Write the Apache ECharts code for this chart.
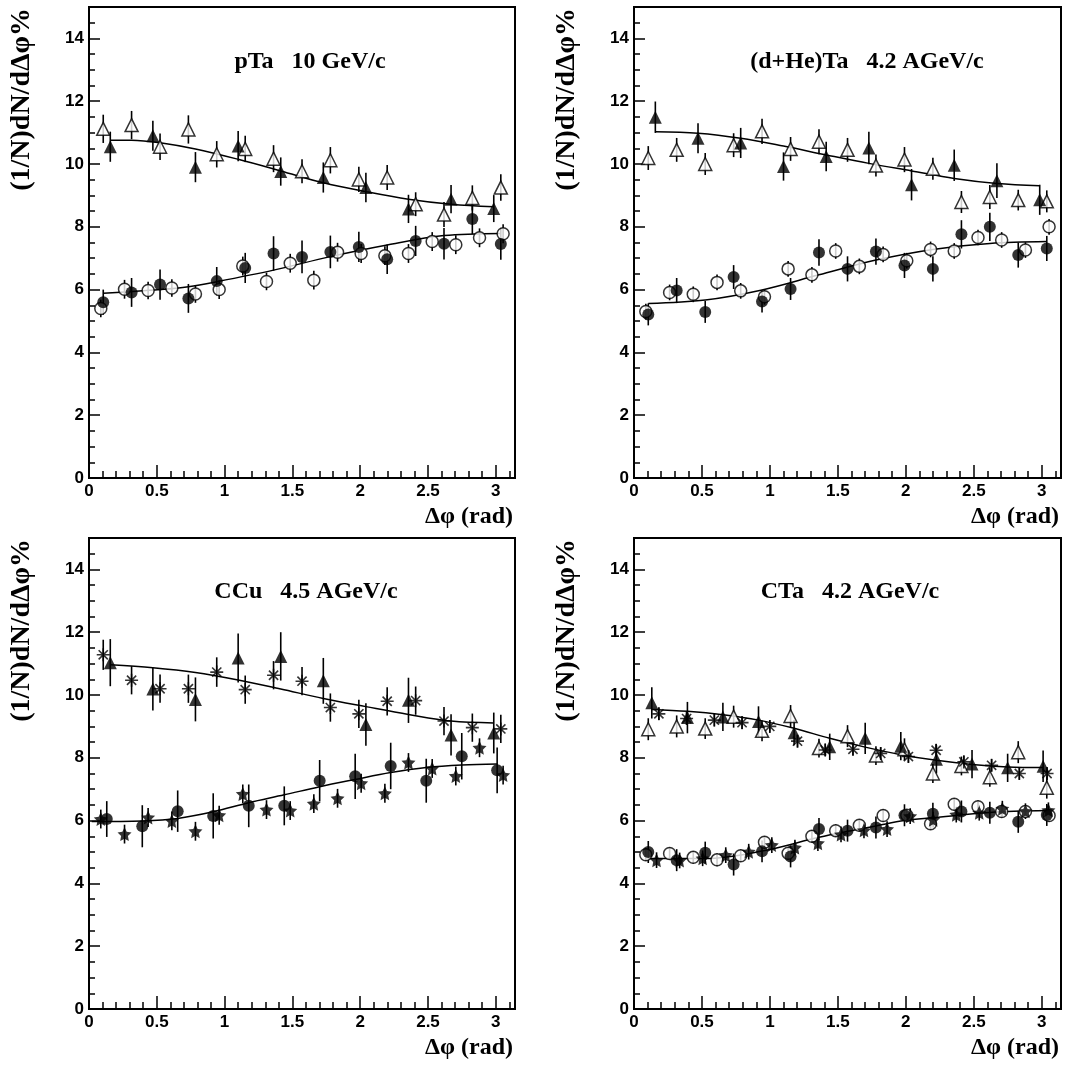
<!DOCTYPE html>
<html>
<head>
<meta charset="utf-8">
<script src="https://cdn.jsdelivr.net/npm/echarts@6.0.0/dist/echarts.min.js"></script>
<style>
  html, body { margin: 0; padding: 0; background: #fff; }
  #chart { width: 1088px; height: 1068px; }
</style>
</head>
<body>
<div id="chart"></div>
<script>
// ---------------- bin centres (rad) ----------------
const x15 = [0.105, 0.314, 0.524, 0.733, 0.942, 1.152, 1.361, 1.571, 1.780, 1.990, 2.199, 2.409, 2.618, 2.827, 3.037];
const x10 = [0.157, 0.471, 0.785, 1.100, 1.414, 1.728, 2.042, 2.356, 2.670, 2.985];
const x18 = [0.087, 0.262, 0.436, 0.611, 0.785, 0.960, 1.134, 1.309, 1.484, 1.658, 1.833, 2.007, 2.182, 2.356, 2.531, 2.705, 2.880, 3.054];
const x12 = [0.131, 0.393, 0.654, 0.916, 1.178, 1.440, 1.701, 1.963, 2.225, 2.487, 2.749, 3.010];
const xCTaAst = [0.183, 0.387, 0.591, 0.795, 0.999, 1.203, 1.407, 1.611, 1.815, 2.019, 2.223, 2.427, 2.631, 2.835, 3.039];
const xCTaStar = [0.166, 0.336, 0.505, 0.675, 0.844, 1.014, 1.184, 1.353, 1.523, 1.692, 1.862, 2.032, 2.201, 2.371, 2.540, 2.710, 2.880, 3.049];

// ---------------- pTa 10 GeV/c ----------------
const pTaOpenTri = [11.12, 11.24, 10.55, 11.1, 10.31, 10.48, 10.17, 9.77, 10.12, 9.51, 9.57, 8.72, 8.39, 8.92, 9.25];
const pTaOpenTriErr = [0.45, 0.45, 0.42, 0.45, 0.42, 0.42, 0.43, 0.38, 0.42, 0.4, 0.4, 0.38, 0.4, 0.4, 0.42];
const pTaFillTri = [10.55, 10.9, 9.9, 10.57, 9.76, 9.57, 9.25, 8.57, 8.88, 8.58];
const pTaFillTriErr = [0.48, 0.48, 0.48, 0.48, 0.45, 0.48, 0.47, 0.45, 0.45, 0.43];
const pTaFillCirc = [5.6, 5.91, 6.16, 5.72, 6.27, 6.69, 7.15, 7.04, 7.2, 7.36, 6.97, 7.55, 7.46, 8.25, 7.45];
const pTaFillCircErr = [0.4, 0.46, 0.48, 0.46, 0.45, 0.48, 0.55, 0.52, 0.52, 0.48, 0.47, 0.48, 0.5, 0.48, 0.5];
const pTaOpenCirc = [5.4, 6.01, 5.97, 6.05, 5.86, 6.0, 6.75, 6.26, 6.84, 6.3, 7.19, 7.15, 7.08, 7.15, 7.53, 7.43, 7.65, 7.78];
const pTaOpenCircErr = [0.28, 0.3, 0.28, 0.28, 0.28, 0.3, 0.3, 0.28, 0.3, 0.3, 0.3, 0.3, 0.3, 0.3, 0.3, 0.3, 0.3, 0.3];
const pTaFitTopX = [0.157, 0.314, 0.524, 0.785, 1.1, 1.414, 1.728, 2.042, 2.356, 2.67, 2.985];
const pTaFitTopY = [10.76, 10.76, 10.68, 10.48, 10.15, 9.78, 9.4, 9.12, 8.88, 8.72, 8.64];
const pTaFitBotX = [0.105, 0.524, 0.733, 0.942, 1.361, 1.78, 2.199, 2.618, 3.037];
const pTaFitBotY = [5.88, 6.0, 6.09, 6.25, 6.62, 7.05, 7.42, 7.72, 7.79];

// ---------------- (d+He)Ta 4.2 AGeV/c ----------------
const dHeOpenTri = [10.19, 10.45, 10.0, 10.6, 11.04, 10.48, 10.71, 10.45, 9.95, 10.14, 9.85, 8.79, 8.95, 8.85, 8.81];
const dHeOpenTriErr = [0.38, 0.38, 0.35, 0.38, 0.4, 0.38, 0.4, 0.38, 0.35, 0.4, 0.35, 0.35, 0.38, 0.33, 0.35];
const dHeFillTri = [11.49, 10.82, 10.67, 9.92, 10.24, 10.51, 9.34, 9.96, 9.47, 8.86];
const dHeFillTriErr = [0.5, 0.48, 0.48, 0.45, 0.47, 0.52, 0.5, 0.5, 0.55, 0.48];
const dHeFillCirc = [5.21, 5.97, 5.29, 6.4, 5.62, 6.02, 7.18, 6.66, 7.21, 6.77, 6.66, 7.76, 8.0, 7.1, 7.31];
const dHeFillCircErr = [0.35, 0.4, 0.35, 0.38, 0.35, 0.35, 0.42, 0.4, 0.42, 0.4, 0.4, 0.45, 0.45, 0.4, 0.4];
const dHeOpenCirc = [5.3, 5.91, 5.85, 6.23, 5.96, 5.77, 6.66, 6.47, 7.23, 6.74, 7.12, 6.92, 7.28, 7.23, 7.66, 7.58, 7.26, 8.0];
const dHeOpenCircErr = [0.25, 0.25, 0.25, 0.25, 0.25, 0.25, 0.25, 0.25, 0.25, 0.25, 0.25, 0.25, 0.25, 0.25, 0.25, 0.25, 0.25, 0.25];
const dHeFitTopX = [0.157, 0.471, 0.785, 1.1, 1.414, 1.728, 2.042, 2.356, 2.67, 2.985];
const dHeFitTopY = [11.03, 10.98, 10.82, 10.57, 10.29, 10.02, 9.78, 9.54, 9.38, 9.31];
const dHeFitBotX = [0.105, 0.524, 0.942, 1.361, 1.78, 2.199, 2.618, 3.037];
const dHeFitBotY = [5.56, 5.67, 5.99, 6.47, 6.94, 7.28, 7.47, 7.53];

// ---------------- CCu 4.5 AGeV/c ----------------
const CCuAst = [11.28, 10.47, 10.2, 10.2, 10.73, 10.17, 10.63, 10.44, 9.6, 9.4, 9.8, 9.82, 9.17, 8.96, 8.92];
const CCuAstErr = [0.48, 0.45, 0.45, 0.45, 0.47, 0.45, 0.45, 0.45, 0.45, 0.45, 0.45, 0.45, 0.45, 0.45, 0.45];
const CCuFillTri = [11.03, 10.19, 9.86, 11.18, 11.23, 10.45, 9.06, 9.83, 8.73, 8.79];
const CCuFillTriErr = [0.75, 0.68, 0.7, 0.78, 0.77, 0.73, 0.68, 0.72, 0.66, 0.65];
const CCuFillCirc = [6.05, 5.82, 6.3, 6.15, 6.47, 6.47, 7.27, 7.41, 7.74, 7.27, 8.05, 7.6];
const CCuFillCircErr = [0.57, 0.67, 0.66, 0.72, 0.68, 0.62, 0.66, 0.72, 0.74, 0.7, 0.74, 0.73];
const CCuStar = [6.05, 5.57, 6.1, 5.99, 5.66, 6.17, 6.85, 6.35, 6.32, 6.54, 6.71, 7.19, 6.87, 7.85, 7.66, 7.42, 8.32, 7.45];
const CCuStarErr = [0.3, 0.3, 0.3, 0.3, 0.3, 0.3, 0.3, 0.3, 0.3, 0.3, 0.3, 0.3, 0.3, 0.3, 0.3, 0.3, 0.3, 0.3];
const CCuFitTopX = [0.157, 0.471, 0.785, 1.1, 1.414, 1.728, 2.042, 2.356, 2.67, 2.985];
const CCuFitTopY = [10.96, 10.87, 10.72, 10.48, 10.19, 9.89, 9.63, 9.38, 9.17, 9.11];
const CCuFitBotX = [0.02, 0.393, 0.654, 0.916, 1.178, 1.44, 1.701, 1.963, 2.225, 2.487, 2.749, 3.01];
const CCuFitBotY = [5.97, 5.99, 6.07, 6.28, 6.57, 6.82, 7.08, 7.31, 7.53, 7.69, 7.77, 7.8];

// ---------------- CTa 4.2 AGeV/c ----------------
const CTaOpenTri = [8.91, 9.0, 8.93, 9.31, 8.86, 9.33, 8.31, 8.69, 8.07, 8.27, 7.5, 7.74, 7.38, 8.18, 7.05];
const CTaOpenTriErr = [0.35, 0.35, 0.33, 0.35, 0.33, 0.35, 0.3, 0.35, 0.3, 0.35, 0.3, 0.3, 0.3, 0.35, 0.35];
const CTaFillTri = [9.75, 9.28, 9.3, 9.16, 8.8, 8.35, 8.62, 8.37, 7.95, 7.8, 7.68, 7.73];
const CTaFillTriErr = [0.5, 0.5, 0.45, 0.48, 0.4, 0.42, 0.5, 0.45, 0.45, 0.45, 0.45, 0.5];
const CTaAst = [9.4, 9.25, 9.2, 9.12, 9.0, 8.53, 8.25, 8.27, 8.14, 8.04, 8.24, 7.87, 7.76, 7.5, 7.5];
const CTaAstErr = [0.2, 0.2, 0.2, 0.2, 0.2, 0.2, 0.2, 0.2, 0.2, 0.2, 0.2, 0.2, 0.2, 0.2, 0.2];
const CTaFillCirc = [5.0, 4.74, 4.98, 4.6, 5.02, 4.86, 5.73, 5.68, 5.78, 6.17, 6.22, 6.29, 6.25, 5.96, 6.18];
const CTaFillCircErr = [0.35, 0.35, 0.35, 0.35, 0.35, 0.35, 0.35, 0.35, 0.35, 0.35, 0.35, 0.35, 0.35, 0.35, 0.35];
const CTaOpenCirc = [4.91, 4.95, 4.83, 4.75, 4.88, 5.31, 4.96, 5.5, 5.68, 5.85, 6.16, 6.17, 5.9, 6.52, 6.44, 6.29, 6.29, 6.16];
const CTaOpenCircErr = [0.2, 0.2, 0.2, 0.2, 0.2, 0.2, 0.2, 0.2, 0.2, 0.2, 0.2, 0.2, 0.2, 0.2, 0.2, 0.2, 0.2, 0.2];
const CTaStar = [4.74, 4.73, 4.8, 4.9, 5.01, 5.22, 5.14, 5.28, 5.56, 5.69, 5.73, 6.14, 6.03, 6.19, 6.25, 6.38, 6.3, 6.33];
const CTaStarErr = [0.25, 0.25, 0.25, 0.25, 0.25, 0.25, 0.25, 0.25, 0.25, 0.25, 0.25, 0.25, 0.25, 0.25, 0.25, 0.25, 0.25, 0.25];
const CTaFitTopX = [0.131, 0.393, 0.654, 0.916, 1.178, 1.44, 1.701, 1.963, 2.225, 2.487, 2.749, 3.01];
const CTaFitTopY = [9.54, 9.48, 9.37, 9.2, 8.94, 8.62, 8.34, 8.1, 7.92, 7.79, 7.71, 7.69];
const CTaFitBotX = [0.105, 0.524, 0.942, 1.361, 1.571, 1.78, 1.99, 2.199, 2.618, 3.037];
const CTaFitBotY = [4.79, 4.79, 5.03, 5.47, 5.66, 5.83, 6.0, 6.09, 6.26, 6.32];

// ---------------- texts ----------------
const panelTitles = ['pTa   10 GeV/c', '(d+He)Ta   4.2 AGeV/c', 'CCu   4.5 AGeV/c', 'CTa   4.2 AGeV/c'];
const xTitle = 'Δφ (rad)';
const yTitle = '(1/N)dN/dΔφ%';

// ---------------- layout / style ----------------
const grids = [
  { left: 89, top: 7, width: 426, height: 471 },
  { left: 634, top: 7, width: 427, height: 471 },
  { left: 89, top: 538, width: 426, height: 471 },
  { left: 634, top: 538, width: 427, height: 471 }
];
const titleCenters = [[310, 62], [867, 62], [306, 592], [850, 592]];
const XMAX = 3.1416;

const STAR = 'path://M0,-10 L2.9,-3.9 L9.51,-3.09 L4.6,1.5 L5.88,8.09 L0,4.9 L-5.88,8.09 L-4.6,1.5 L-9.51,-3.09 L-2.9,-3.9 Z';
const AST = 'path://M0,-10 L0,10 M-10,0 L10,0 M-7.07,-7.07 L7.07,7.07 M-7.07,7.07 L7.07,-7.07';
const markerStyles = {
  fillTri: { symbol: 'triangle', symbolSize: 13, itemStyle: { color: '#000' } },
  openTri: { symbol: 'triangle', symbolSize: 13, itemStyle: { color: '#fff', borderColor: '#000', borderWidth: 1.5 } },
  fillCirc: { symbol: 'circle', symbolSize: 12, itemStyle: { color: '#000' } },
  openCirc: { symbol: 'circle', symbolSize: 12, itemStyle: { color: '#fff', borderColor: '#000', borderWidth: 1.5 } },
  star: { symbol: STAR, symbolSize: 14, itemStyle: { color: '#000' } },
  ast: { symbol: AST, symbolSize: 13, itemStyle: { color: 'none', borderColor: '#000', borderWidth: 1.6 } }
};

const series = [];
function addPoints(g, xs, ys, es, kind) {
  const pts = xs.map((x, i) => [x, ys[i], es[i]]);
  series.push({
    type: 'custom', xAxisIndex: 2 * g, yAxisIndex: 2 * g, z: 2, silent: true,
    encode: { x: 0, y: 1 },
    data: pts,
    renderItem: function (params, api) {
      const x = api.value(0), y = api.value(1), e = api.value(2);
      const p1 = api.coord([x, y - e]);
      const p2 = api.coord([x, y + e]);
      return { type: 'line', shape: { x1: p1[0], y1: p1[1], x2: p2[0], y2: p2[1] },
               style: { stroke: '#000', lineWidth: 1.6 } };
    }
  });
  const st = markerStyles[kind];
  series.push(Object.assign({
    type: 'scatter', xAxisIndex: 2 * g, yAxisIndex: 2 * g, z: 4, silent: true,
    data: xs.map((x, i) => [x, ys[i]])
  }, st));
}
function addFit(g, xs, ys) {
  series.push({
    type: 'line', xAxisIndex: 2 * g, yAxisIndex: 2 * g, z: 3, silent: true,
    smooth: 0.35, symbol: 'none',
    lineStyle: { color: '#000', width: 1.5 },
    data: xs.map((x, i) => [x, ys[i]])
  });
}

// panel 0 : pTa
addPoints(0, x15, pTaOpenTri, pTaOpenTriErr, 'openTri');
addPoints(0, x10, pTaFillTri, pTaFillTriErr, 'fillTri');
addPoints(0, x18, pTaOpenCirc, pTaOpenCircErr, 'openCirc');
addPoints(0, x15, pTaFillCirc, pTaFillCircErr, 'fillCirc');
addFit(0, pTaFitTopX, pTaFitTopY);
addFit(0, pTaFitBotX, pTaFitBotY);
// panel 1 : (d+He)Ta
addPoints(1, x15, dHeOpenTri, dHeOpenTriErr, 'openTri');
addPoints(1, x10, dHeFillTri, dHeFillTriErr, 'fillTri');
addPoints(1, x18, dHeOpenCirc, dHeOpenCircErr, 'openCirc');
addPoints(1, x15, dHeFillCirc, dHeFillCircErr, 'fillCirc');
addFit(1, dHeFitTopX, dHeFitTopY);
addFit(1, dHeFitBotX, dHeFitBotY);
// panel 2 : CCu
addPoints(2, x15, CCuAst, CCuAstErr, 'ast');
addPoints(2, x10, CCuFillTri, CCuFillTriErr, 'fillTri');
addPoints(2, x18, CCuStar, CCuStarErr, 'star');
addPoints(2, x12, CCuFillCirc, CCuFillCircErr, 'fillCirc');
addFit(2, CCuFitTopX, CCuFitTopY);
addFit(2, CCuFitBotX, CCuFitBotY);
// panel 3 : CTa
addPoints(3, x15, CTaOpenTri, CTaOpenTriErr, 'openTri');
addPoints(3, xCTaAst, CTaAst, CTaAstErr, 'ast');
addPoints(3, x12, CTaFillTri, CTaFillTriErr, 'fillTri');
addPoints(3, x18, CTaOpenCirc, CTaOpenCircErr, 'openCirc');
addPoints(3, xCTaStar, CTaStar, CTaStarErr, 'star');
addPoints(3, x15, CTaFillCirc, CTaFillCircErr, 'fillCirc');
addFit(3, CTaFitTopX, CTaFitTopY);
addFit(3, CTaFitBotX, CTaFitBotY);

const labelFont = { fontSize: 17, fontWeight: 'bold', color: '#000', fontFamily: '"Liberation Sans", Arial, sans-serif' };
const xAxes = [], yAxes = [];
grids.forEach((gr, g) => {
  xAxes.push({
    gridIndex: g, type: 'value', position: 'bottom', min: 0, max: XMAX, interval: 0.5,
    axisLine: { show: true, onZero: false, lineStyle: { color: '#000', width: 2 } },
    axisTick: { show: true, inside: true, length: 13, lineStyle: { color: '#000', width: 1.5 } },
    axisLabel: Object.assign({ showMaxLabel: false, margin: 5 }, labelFont),
    splitLine: { show: false }
  });
  xAxes.push({
    gridIndex: g, type: 'value', position: 'bottom', min: 0, max: XMAX, interval: 0.1,
    axisLine: { show: false },
    axisTick: { show: true, inside: true, length: 7, lineStyle: { color: '#000', width: 1.5 } },
    axisLabel: { show: false }, splitLine: { show: false }
  });
  yAxes.push({
    gridIndex: g, type: 'value', position: 'left', min: 0, max: 15, interval: 2,
    axisLine: { show: true, onZero: false, lineStyle: { color: '#000', width: 2 } },
    axisTick: { show: true, inside: true, length: 11, lineStyle: { color: '#000', width: 1.5 } },
    axisLabel: Object.assign({ showMaxLabel: false, margin: 5 }, labelFont),
    splitLine: { show: false }
  });
  yAxes.push({
    gridIndex: g, type: 'value', position: 'left', min: 0, max: 15, interval: 0.5,
    axisLine: { show: false },
    axisTick: { show: true, inside: true, length: 6, lineStyle: { color: '#000', width: 1.5 } },
    axisLabel: { show: false }, splitLine: { show: false }
  });
});

const graphics = [];
const serif = '"Liberation Serif", "Times New Roman", serif';
grids.forEach((gr, g) => {
  graphics.push({
    type: 'text', x: titleCenters[g][0], y: titleCenters[g][1], silent: true,
    style: { text: panelTitles[g], fill: '#000', fontSize: 24, fontWeight: 'bold', fontFamily: serif,
             align: 'center', verticalAlign: 'middle' }
  });
  graphics.push({
    type: 'text', x: gr.left + gr.width - 2, y: gr.top + gr.height + 39, silent: true,
    style: { text: xTitle, fill: '#000', fontSize: 24, fontWeight: 'bold', fontFamily: serif,
             align: 'right', verticalAlign: 'middle' }
  });
  graphics.push({
    type: 'text', x: gr.left - 67, y: gr.top + 1, rotation: Math.PI / 2, silent: true,
    style: { text: yTitle, fill: '#000', fontSize: 28, fontWeight: 'bold', fontFamily: serif,
             align: 'right', verticalAlign: 'middle' }
  });
});

const chart = echarts.init(document.getElementById('chart'), null, { renderer: 'canvas' });
chart.setOption({
  animation: false,
  backgroundColor: '#fff',
  grid: grids.map(gr => Object.assign({ show: true, borderColor: '#000', borderWidth: 2, backgroundColor: 'transparent', containLabel: false }, gr)),
  xAxis: xAxes,
  yAxis: yAxes,
  series: series,
  graphic: graphics
});
</script>
</body>
</html>
